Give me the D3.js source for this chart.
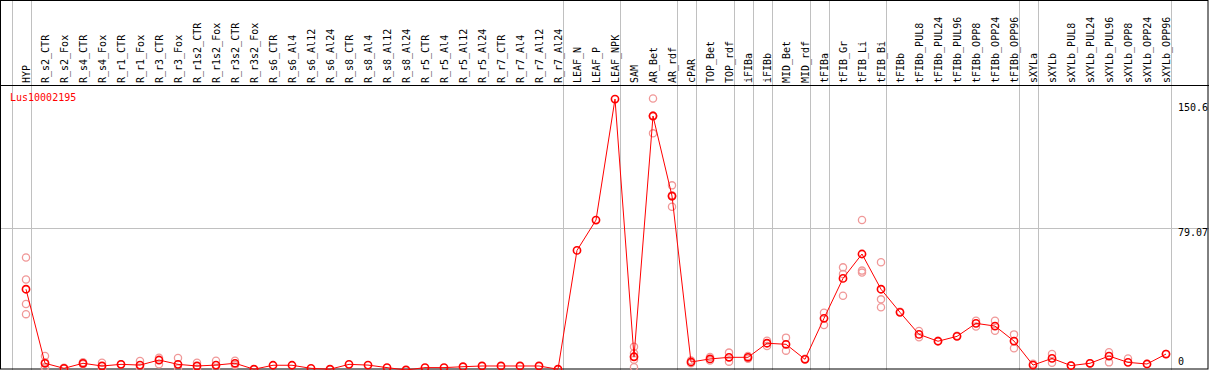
<!DOCTYPE html>
<html>
<head>
<meta charset="utf-8">
<script src="https://cdn.jsdelivr.net/npm/d3@7"></script>
<style>
  body { margin: 0; background: #fff; }
  text { font-family: "DejaVu Sans Mono", monospace; font-size: 10px; }
</style>
</head>
<body>
<div id="container"></div>
<script>
// sample columns, left to right
const categories = [
  "HYP", "R_s2_CTR", "R_s2_Fox", "R_s4_CTR", "R_s4_Fox", "R_r1_CTR", "R_r1_Fox",
  "R_r3_CTR", "R_r3_Fox", "R_r1s2_CTR", "R_r1s2_Fox", "R_r3s2_CTR", "R_r3s2_Fox",
  "R_s6_CTR", "R_s6_Al4", "R_s6_Al12", "R_s6_Al24", "R_s8_CTR", "R_s8_Al4",
  "R_s8_Al12", "R_s8_Al24", "R_r5_CTR", "R_r5_Al4", "R_r5_Al12", "R_r5_Al24",
  "R_r7_CTR", "R_r7_Al4", "R_r7_Al12", "R_r7_Al24", "LEAF_N", "LEAF_P", "LEAF_NPK",
  "SAM", "AR_Bet", "AR_rdf", "cPAR", "TOP_Bet", "TOP_rdf", "iFIBa", "iFIBb",
  "MID_Bet", "MID_rdf", "tFIBa", "tFIB_Gr", "tFIB_Li", "tFIB_Bi", "tFIBb",
  "tFIBb_PUL8", "tFIBb_PUL24", "tFIBb_PUL96", "tFIBb_OPP8", "tFIBb_OPP24",
  "tFIBb_OPP96", "sXYLa", "sXYLb", "sXYLb_PUL8", "sXYLb_PUL24", "sXYLb_PUL96",
  "sXYLb_OPP8", "sXYLb_OPP24", "sXYLb_OPP96"
];

// mean expression per column (dark circles + line)
const means = [
  45.0, 4.0, 1.2, 4.0, 2.5, 3.4, 3.0, 5.8, 3.4, 2.5, 3.0, 4.0, 0.7, 2.9, 2.9,
  1.2, 0.7, 3.4, 3.0, 1.6, 0.3, 1.6, 1.6, 2.1, 2.5, 2.5, 2.5, 2.5, 0.7,
  66.5, 83.3, 150.3, 7.6, 140.9, 96.6, 4.7, 6.4, 7.3, 7.3, 15.1, 14.5, 6.2,
  28.9, 51.0, 64.5, 45.0, 32.2, 20.0, 16.2, 18.9, 26.1, 24.6, 16.3,
  3.0, 6.7, 2.7, 4.0, 8.0, 4.5, 3.6, 9.1
];

// replicate values per column (light circles)
const replicates = [
  [62.6, 50.4, 36.8, 31.2], [8.0, 4.5, 2.0, 1.5], [1.0, 1.5], [4.5, 3.5], [4.3, 1.0],
  [3.4], [5.3, 1.5], [7.1, 3.4], [6.9, 1.2], [4.3, 1.0], [5.4, 1.2], [5.4, 3.0],
  [], [], [], [], [], [], [], [], [], [], [], [], [], [], [], [], [],
  [], [], [],
  [13.2, 9.5, 6.0, 1.8], [150.6, 141, 141, 131.3], [102.5, 97, 96.3, 90.7],
  [5.5, 4.0], [7.5, 5.5], [9.9, 4.9], [8.0, 6.5], [16.5, 13.6], [18.2, 11.0], [6.5],
  [32.0, 25.2], [57.1, 53.4, 41.4], [83.3, 55.3, 54.2], [59.9, 39.4, 35.0], [32.5],
  [21.9, 18.4], [16.5], [19.2], [27.6, 24.3], [27.6, 22.0], [20.0, 12.3],
  [3.8], [9.1, 4.3], [2.7], [4.0], [10.1, 4.5], [6.7], [3.6], [9.1]
];

// index of the last column of each group (-1 = left edge)
const groupEnds = [-1, 0, 28, 31, 34, 35, 37, 38, 39, 41, 42, 45, 52, 53, 60];

const yTicks = [150.6, 79.07, 0];
const geneName = "Lus10002195";

const W = 1209, H = 370, headerH = 85;

const svg = d3.select("div#container")
  .append("svg")
  .attr("width", W)
  .attr("height", H);

const x = d3.scalePoint().domain(categories).range([26, 1166]);
const step = x.step();
const y = d3.scaleLinear().domain([0, 150.6]).range([370.5, 98.5]);

// grid: horizontal at the middle tick, vertical group separators
svg.append("line")
  .attr("x1", 0).attr("x2", W)
  .attr("y1", Math.round(y(79.07)) + 0.5).attr("y2", Math.round(y(79.07)) + 0.5)
  .attr("stroke", "#c0c0c0");

svg.selectAll("line.sep")
  .data(groupEnds)
  .enter()
  .append("line")
  .attr("class", "sep")
  .attr("x1", d => Math.round(x(categories[0]) + d * step + 4.75) + 0.5)
  .attr("x2", d => Math.round(x(categories[0]) + d * step + 4.75) + 0.5)
  .attr("y1", 0).attr("y2", H)
  .attr("stroke", "#c0c0c0");

// frame
svg.append("rect")
  .attr("x", 0.5).attr("y", 0.5)
  .attr("width", W - 1.5).attr("height", H - 1.5)
  .attr("fill", "none").attr("stroke", "#000");
svg.append("line")
  .attr("x1", 0).attr("x2", W)
  .attr("y1", headerH + 0.5).attr("y2", headerH + 0.5)
  .attr("stroke", "#000");

// column labels
svg.selectAll("text.col")
  .data(categories)
  .enter()
  .append("text")
  .attr("class", "col")
  .attr("transform", d => `translate(${x(d) + 3.5},${headerH - 2}) rotate(-90)`)
  .text(d => d);

// value labels on the right
svg.selectAll("text.ytick")
  .data(yTicks)
  .enter()
  .append("text")
  .attr("class", "ytick")
  .attr("x", 1178)
  .attr("y", d => Math.min(Math.max(y(d) + 8.5, 111), 365))
  .text(d => d);

svg.append("text")
  .attr("x", 10).attr("y", 101)
  .attr("fill", "#ff0000")
  .text(geneName);

// replicates
const reps = [];
replicates.forEach((vals, i) => vals.forEach(v => reps.push({c: categories[i], v: v})));

svg.selectAll("circle.rep")
  .data(reps)
  .enter()
  .append("circle")
  .attr("class", "rep")
  .attr("cx", d => x(d.c))
  .attr("cy", d => y(d.v))
  .attr("r", 3.6)
  .attr("fill", "none")
  .attr("stroke", "#f09898")
  .attr("stroke-width", 1.3);

// mean line + points
const lineGenerator = d3.line()
  .x((d, i) => x(categories[i]))
  .y(d => y(d));

svg.append("path")
  .attr("d", lineGenerator(means))
  .attr("fill", "none")
  .attr("stroke", "#ff0000")
  .attr("stroke-width", 1);

svg.selectAll("circle.mean")
  .data(means)
  .enter()
  .append("circle")
  .attr("class", "mean")
  .attr("cx", (d, i) => x(categories[i]))
  .attr("cy", d => y(d))
  .attr("r", 3.6)
  .attr("fill", "none")
  .attr("stroke", "#ff0000")
  .attr("stroke-width", 1.6);
</script>
</body>
</html>
